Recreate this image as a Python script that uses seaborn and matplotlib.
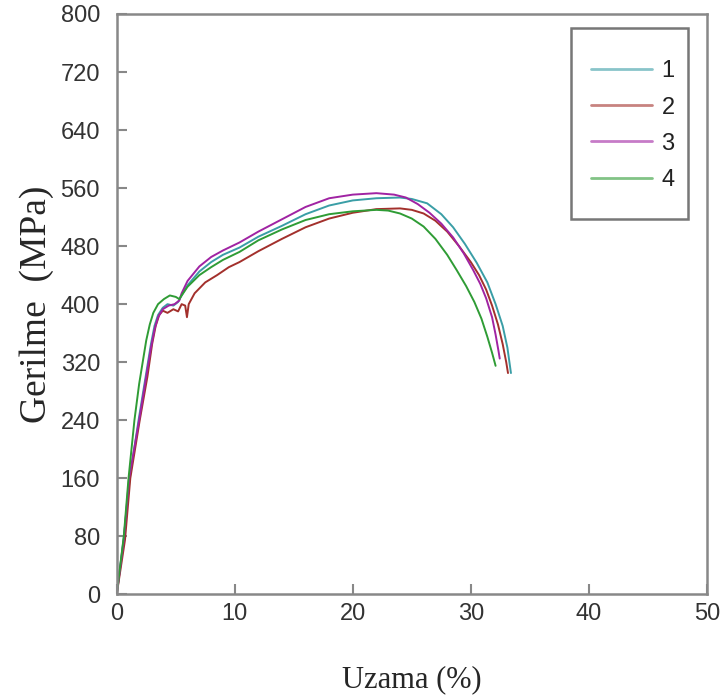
import pandas as pd
import matplotlib
matplotlib.use("Agg")
import matplotlib.pyplot as plt
from matplotlib.patches import Rectangle
import seaborn as sns

# tensile curves, strain (%) vs stress (MPa)
x1 = [0, 0.6, 1.1, 1.85, 2.5, 2.9, 3.2, 3.5, 3.9, 4.3, 4.8, 5.2, 5.5, 6, 7, 8, 9, 10.4, 12, 14, 16, 18, 20, 22,
      24, 25, 26.3, 27.5, 28.5, 29.5, 30.5, 31.4, 32.1, 32.7, 33.1, 33.4]
y1 = [0, 78, 160, 240, 305, 345, 370, 385, 395, 400, 398, 403, 412, 426, 445, 458, 468, 478, 493, 508, 524, 536,
      543, 546, 547, 545, 539, 524, 506, 483, 457, 430, 400, 370, 340, 305]

x2 = [0, 0.7, 1.15, 1.95, 2.6, 3.0, 3.3, 3.6, 3.9, 4.3, 4.8, 5.2, 5.5, 5.8, 5.95, 6.1, 6.6, 7.5, 8.5, 9.5, 10.4,
      12, 14, 16, 18, 20, 22, 24, 25, 26, 27, 28, 29, 30, 30.7, 31.3, 31.8, 32.3, 32.7, 33.0, 33.15]
y2 = [0, 75, 160, 240, 300, 345, 370, 385, 391, 388, 393, 390, 400, 398, 382, 400, 415, 430, 440, 451, 458,
      473, 490, 506, 518, 526, 531, 532, 530, 525, 515, 500, 480, 458, 440, 420, 398, 372, 345, 320, 305]

x3 = [0, 0.6, 1.05, 1.9, 2.5, 2.9, 3.2, 3.5, 3.9, 4.4, 4.9, 5.3, 5.5, 6, 7, 8, 9, 10.4, 12, 14, 16, 18, 20, 22,
      23.5, 24.5, 25.5, 26.5, 27.5, 28.5, 29.4, 30.2, 30.8, 31.3, 31.8, 32.1, 32.35, 32.45]
y3 = [0, 75, 160, 240, 300, 340, 365, 382, 393, 398, 400, 405, 415, 432, 452, 465, 474, 485, 500, 517, 534, 546,
      551, 553, 551, 547, 538, 526, 511, 492, 470, 447, 428, 408, 382, 358, 335, 325]

x4 = [0, 0.6, 1.0, 1.5, 1.9, 2.2, 2.5, 2.8, 3.1, 3.5, 4.0, 4.5, 5.0, 5.3, 5.5, 6, 7, 8, 9, 10.4, 12, 14, 16, 18,
      20, 22, 23, 24, 25, 26, 27, 28, 28.8, 29.6, 30.3, 30.9, 31.4, 31.8, 32.1]
y4 = [0, 80, 160, 240, 290, 320, 350, 372, 388, 400, 407, 412, 410, 407, 412, 424, 440, 451, 461, 472, 488, 503,
      516, 524, 528, 530, 529, 525, 518, 507, 490, 468, 447, 425, 403, 380, 355, 333, 315]

series = ["1", "2", "3", "4"]
colors = ["#3a9ea6", "#a3302c", "#a023a3", "#2f9c35"]

frames = []
for name, xs, ys in zip(series, [x1, x2, x3, x4], [y1, y2, y3, y4]):
    frames.append(pd.DataFrame({"uzama": xs, "gerilme": ys, "numune": name}))
df = pd.concat(frames, ignore_index=True)

sns.set_style("white")
plt.rcParams["font.family"] = ["Liberation Sans", "DejaVu Sans"]

fig = plt.figure(figsize=(7.25, 7), dpi=100)
ax = fig.add_axes([0.161, 0.151, 0.814, 0.829])

sns.lineplot(data=df, x="uzama", y="gerilme", hue="numune", palette=colors,
             sort=False, estimator=None, linewidth=1.4, ax=ax)

ax.set_xlim(0, 50)
ax.set_ylim(0, 800)
ax.set_xticks(range(0, 51, 10))
ax.set_yticks(range(0, 801, 80))

for sp in ax.spines.values():
    sp.set_color("#888888")
    sp.set_linewidth(1.8)

ax.tick_params(direction="in", length=7, width=1.5, color="#888888",
               labelsize=17, labelcolor="#333333",
               top=False, right=False, left=True, bottom=True)
ax.tick_params(axis="x", pad=6)
ax.tick_params(axis="y", pad=12)

ax.set_xlabel("Uzama (%)", family="Liberation Serif", fontsize=22, labelpad=29)
ax.set_ylabel("Gerilme  (MPa)", family="Liberation Serif", fontsize=27, labelpad=5)

# legend entries without frame, box drawn separately (taller than the entries need)
handles, labels = ax.get_legend_handles_labels()
for h in handles:
    h.set_alpha(0.6)
    h.set_linewidth(2)
leg = ax.legend(handles, labels, loc="upper left", bbox_to_anchor=(0.803, 0.92),
                frameon=False, fontsize=17, handlelength=2.6,
                handletextpad=0.4, labelspacing=0.6, borderpad=0.0,
                borderaxespad=0.0)
for t in leg.get_texts():
    t.set_color("#222222")
ax.add_patch(Rectangle((0.769, 0.647), 0.199, 0.329, transform=ax.transAxes,
                       fill=False, edgecolor="#777777", linewidth=1.8, zorder=5))

fig.savefig("out.png", dpi=100)
